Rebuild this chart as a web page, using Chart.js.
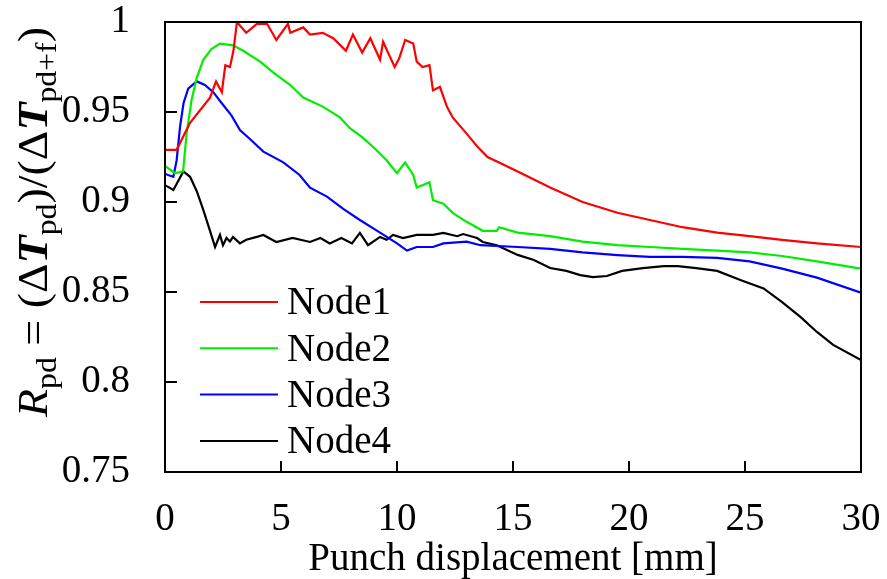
<!DOCTYPE html>
<html>
<head>
<meta charset="utf-8">
<script src="https://cdn.jsdelivr.net/npm/chart.js@4.4.1/dist/chart.umd.min.js"></script>
<style>
  html, body { margin: 0; padding: 0; background: #fff; overflow: hidden; }
  #wrap { width: 887px; height: 579px; }
  #warm { position: absolute; left: -200px; top: 0; }
</style>
</head>
<body>
<canvas id="warm" width="100" height="60"></canvas>
<div id="wrap"><canvas id="chart"></canvas></div>
<script>
// values
const seriesNames = ["Node1", "Node2", "Node3", "Node4"];
const seriesColors = ["#ff0000", "#00ee00", "#0000ff", "#000000"];

const node1X = [0, 0.5, 1.08, 1.94, 2.2, 2.45, 2.6, 2.8, 2.95, 3.1, 3.5, 3.96, 4.4, 4.8, 5.3, 5.4, 5.96, 6.25, 6.8, 7.25, 7.8, 8.1, 8.5, 8.85, 9.27, 9.4, 9.9, 10.1, 10.35, 10.7, 10.85, 11.1, 11.4, 11.55, 11.85, 12.15, 12.4, 13.0, 13.45, 13.9, 14.4, 15.2, 16.6, 18.0, 19.5, 20.9, 22.3, 23.8, 25.2, 26.6, 28.1, 30];
const node1Y = [0.929, 0.929, 0.944, 0.958, 0.967, 0.961, 0.976, 0.975, 0.984, 1.0, 0.994, 0.999, 0.999, 0.99, 0.999, 0.994, 0.997, 0.993, 0.994, 0.991, 0.984, 0.993, 0.983, 0.991, 0.979, 0.989, 0.975, 0.98, 0.99, 0.988, 0.978, 0.975, 0.976, 0.962, 0.964, 0.953, 0.947, 0.938, 0.931, 0.925, 0.922, 0.917, 0.908, 0.900, 0.894, 0.890, 0.886, 0.883, 0.881, 0.879, 0.877, 0.875];

const node2X = [0, 0.43, 0.78, 0.93, 1.15, 1.37, 1.65, 2.0, 2.37, 2.93, 3.37, 4.1, 4.66, 5.4, 5.96, 6.8, 7.54, 7.97, 8.5, 9.1, 9.56, 10.0, 10.35, 10.7, 10.85, 11.4, 11.55, 12.0, 12.4, 13.0, 13.7, 14.3, 14.4, 15.2, 16.6, 18.0, 19.5, 20.9, 22.3, 23.8, 25.2, 26.6, 28.1, 30];
const node2Y = [0.920, 0.916, 0.917, 0.938, 0.957, 0.969, 0.979, 0.985, 0.988, 0.987, 0.984, 0.978, 0.972, 0.965, 0.958, 0.953, 0.947, 0.941, 0.936, 0.929, 0.923, 0.916, 0.922, 0.915, 0.908, 0.911, 0.901, 0.899, 0.894, 0.889, 0.884, 0.884, 0.886, 0.883, 0.881, 0.878, 0.876, 0.875, 0.874, 0.873, 0.872, 0.870, 0.867, 0.863];

const node3X = [0, 0.36, 0.5, 0.65, 0.8, 1.0, 1.37, 1.72, 2.08, 2.44, 2.87, 3.23, 3.66, 4.24, 5.1, 5.8, 6.25, 6.98, 7.7, 8.4, 9.27, 10.0, 10.43, 10.85, 11.55, 12.0, 13.0, 13.6, 15.2, 16.6, 18.0, 19.5, 20.9, 22.3, 23.8, 25.2, 26.6, 28.1, 30];
const node3Y = [0.9156, 0.914, 0.923, 0.942, 0.955, 0.963, 0.967, 0.965, 0.961, 0.955, 0.948, 0.940, 0.935, 0.928, 0.922, 0.915, 0.908, 0.903, 0.896, 0.890, 0.883, 0.877, 0.873, 0.875, 0.875, 0.877, 0.878, 0.876, 0.875, 0.874, 0.872, 0.8705, 0.8695, 0.8695, 0.869, 0.867, 0.863, 0.858, 0.8496];

const node4X = [0, 0.36, 0.79, 1.08, 1.37, 1.65, 1.94, 2.16, 2.37, 2.5, 2.65, 2.8, 2.93, 3.23, 3.5, 3.96, 4.24, 4.8, 5.5, 6.25, 6.7, 7.1, 7.6, 8.06, 8.4, 8.75, 9.27, 9.55, 9.83, 10.26, 10.85, 11.55, 12.0, 12.6, 12.85, 13.45, 13.7, 14.3, 15.2, 15.9, 16.6, 17.3, 17.9, 18.45, 19.05, 19.7, 20.6, 21.5, 22.1, 22.9, 23.8, 24.8, 25.8, 26.6, 27.4, 28.1, 28.8, 30];
const node4Y = [0.9094, 0.9067, 0.917, 0.914, 0.906, 0.8956, 0.884, 0.875, 0.8817, 0.876, 0.880, 0.878, 0.8806, 0.877, 0.879, 0.8806, 0.8817, 0.8778, 0.880, 0.8778, 0.880, 0.877, 0.880, 0.877, 0.8828, 0.876, 0.8806, 0.879, 0.8817, 0.880, 0.8817, 0.8817, 0.8828, 0.881, 0.8822, 0.880, 0.8778, 0.876, 0.8706, 0.8678, 0.8633, 0.8617, 0.8594, 0.8583, 0.8589, 0.8617, 0.8633, 0.8644, 0.8644, 0.8633, 0.8617, 0.8567, 0.852, 0.8444, 0.836, 0.8278, 0.8206, 0.8122];

const xTitle = "Punch displacement [mm]";
// y title pieces: [text, style, subscript?]
const yTitleParts = [
    ["R", "italic", false], ["pd", "", true], [" = (", "", false],
    ["\u0394", "", false], ["T", "italic bold", false], ["pd", "", true], [")/(", "", false],
    ["\u0394", "", false], ["T", "italic bold", false], ["pd+f", "", true], [")", "", false]
];

const SERIF = "'Liberation Serif'";
const allX = [node1X, node2X, node3X, node4X];
const allY = [node1Y, node2Y, node3Y, node4Y];

function toPoints(xs, ys) {
    return xs.map((x, i) => ({ x: x, y: ys[i] }));
}

// touch the serif faces once on a throwaway canvas before the chart draws
const warm = document.getElementById('warm').getContext('2d');
["29px ", "39px ", "42px ", "italic 42px ", "italic bold 42px "].forEach(f => {
    warm.font = f + SERIF;
    warm.fillText("Node1 0.95 \u0394T", 0, 40);
});

// frame, inward ticks, legend and rich y title
const decorPlugin = {
    id: 'decor',
    afterDraw(chart) {
        const ctx = chart.ctx;
        const a = chart.chartArea;
        const xs = chart.scales.x, ys = chart.scales.y;
        ctx.save();
        ctx.strokeStyle = '#000';
        ctx.lineWidth = 2;
        ctx.strokeRect(a.left, a.top, a.right - a.left, a.bottom - a.top);
        ctx.beginPath();
        xs.ticks.forEach(t => {
            const px = Math.round(xs.getPixelForValue(t.value));
            ctx.moveTo(px, a.bottom);
            ctx.lineTo(px, a.bottom - 11);
        });
        ys.ticks.forEach(t => {
            const py = Math.round(ys.getPixelForValue(t.value));
            ctx.moveTo(a.left, py);
            ctx.lineTo(a.left + 12, py);
        });
        ctx.stroke();

        // legend inside plot, lower left
        ctx.font = "39px " + SERIF;
        ctx.textBaseline = 'middle';
        ctx.textAlign = 'left';
        chart.data.datasets.forEach((ds, i) => {
            const y = 302 + i * 46.3;
            ctx.strokeStyle = ds.borderColor;
            ctx.lineWidth = 2;
            ctx.beginPath();
            ctx.moveTo(200, y);
            ctx.lineTo(278, y);
            ctx.stroke();
            ctx.fillStyle = '#000';
            ctx.fillText(ds.label, 287, y + 2);
        });

        // y axis title
        ctx.translate(47, 222);
        ctx.rotate(-Math.PI / 2);
        const fontOf = p => (p[1] ? p[1] + " " : "") + (p[2] ? 29 : 42) + "px " + SERIF;
        const widths = yTitleParts.map(p => {
            ctx.font = fontOf(p);
            return ctx.measureText(p[0]).width;
        });
        const total = widths.reduce((s, w) => s + w, 0);
        ctx.scale(390 / total, 1);
        ctx.textBaseline = 'alphabetic';
        ctx.fillStyle = '#000';
        let cx = -total / 2;
        yTitleParts.forEach((p, i) => {
            ctx.font = fontOf(p);
            ctx.fillText(p[0], cx, p[2] ? 9 : 0);
            cx += widths[i];
        });
        ctx.restore();
    }
};

const chart = new Chart(document.getElementById('chart'), {
    type: 'line',
    data: {
        datasets: seriesNames.map((name, i) => ({
            label: name,
            data: toPoints(allX[i], allY[i]),
            borderColor: seriesColors[i],
            backgroundColor: seriesColors[i],
            borderWidth: 2.2,
            pointRadius: 0,
            tension: 0,
            fill: false
        }))
    },
    options: {
        responsive: true,
        maintainAspectRatio: false,
        animation: false,
        layout: { padding: { top: 22, right: 26, left: 0, bottom: 0 } },
        plugins: {
            legend: { display: false },
            tooltip: { enabled: false }
        },
        scales: {
            x: {
                type: 'linear',
                min: 0,
                max: 30,
                ticks: {
                    stepSize: 5,
                    color: '#000',
                    padding: 28,
                    maxRotation: 0,
                    font: { family: SERIF, size: 39, lineHeight: 1 }
                },
                grid: { display: false, drawTicks: false },
                border: { display: false },
                title: {
                    display: true,
                    text: xTitle,
                    color: '#000',
                    font: { family: SERIF, size: 39, lineHeight: 1 },
                    padding: { top: 0, bottom: 0 }
                },
                afterFit: s => { s.height = 107; s.paddingLeft = 0; s.paddingRight = 0; }
            },
            y: {
                min: 0.75,
                max: 1,
                ticks: {
                    stepSize: 0.05,
                    color: '#000',
                    padding: 35,
                    font: { family: SERIF, size: 39, lineHeight: 1 },
                    callback: v => String(+v.toFixed(2))
                },
                grid: { display: false, drawTicks: false },
                border: { display: false },
                afterFit: s => { s.width = 165; s.paddingTop = 0; s.paddingBottom = 0; }
            }
        }
    },
    plugins: [decorPlugin]
});
setTimeout(() => chart.update('none'), 30);
</script>
</body>
</html>
